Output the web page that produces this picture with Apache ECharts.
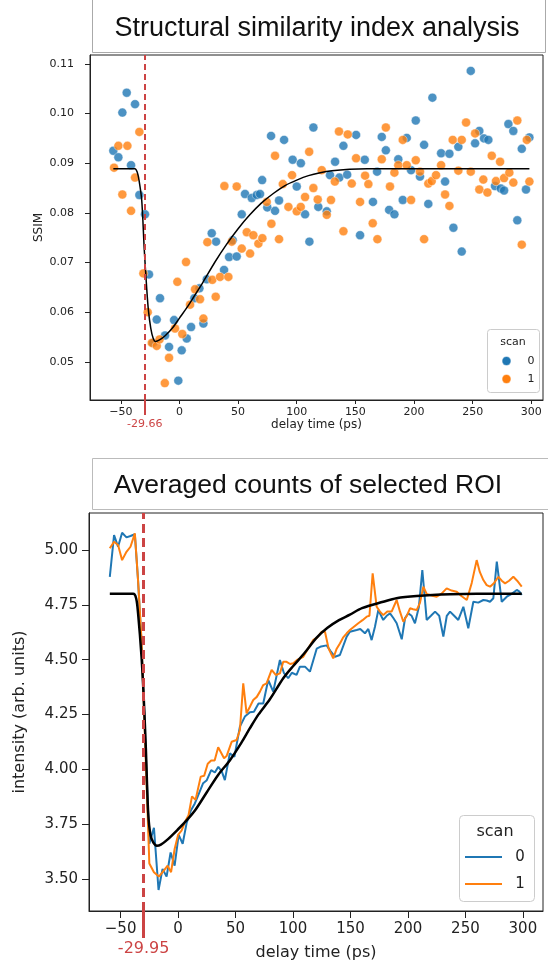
<!DOCTYPE html>
<html><head><meta charset="utf-8">
<script src="https://cdn.jsdelivr.net/npm/echarts@6/dist/echarts.min.js"></script>
<style>html,body{margin:0;padding:0;background:#fff}#c{width:548px;height:968px}</style>
</head><body><div id="c"></div>
<script>
const xTicks = [-50, 0, 50, 100, 150, 200, 250, 300];
const ssimTicks = [0.05, 0.06, 0.07, 0.08, 0.09, 0.10, 0.11];
const intTicks = [3.50, 3.75, 4.00, 4.25, 4.50, 4.75, 5.00];
const scanNames = ['0', '1'];
const ssimT0 = -29.66;
const roiT0 = -29.95;

const ssimScan0 = [[-56.4,0.0925],[-52.1,0.0912],[-48.7,0.1002],[-45.0,0.1042],[-41.3,0.0896],[-37.9,0.1019],[-34.2,0.0836],[-29.4,0.0797],[-26.0,0.0676],[-22.5,0.0538],[-19.4,0.0585],[-16.6,0.0628],[-12.3,0.0553],[-8.9,0.0530],[-4.6,0.0584],[-1.0,0.0462],[1.9,0.0523],[6.2,0.0547],[9.9,0.0570],[12.7,0.0628],[17.0,0.0648],[20.4,0.0577],[23.3,0.0666],[27.5,0.0759],[31.2,0.0742],[38.0,0.0685],[42.3,0.0711],[45.4,0.0745],[48.8,0.0712],[53.1,0.0797],[55.9,0.0838],[61.6,0.0830],[65.9,0.0836],[68.7,0.0838],[70.5,0.0866],[74.9,0.0811],[78.1,0.0955],[81.5,0.0804],[84.9,0.0825],[89.2,0.0947],[96.5,0.0907],[100.0,0.0853],[103.5,0.0900],[107.1,0.0797],[110.8,0.0742],[114.2,0.0972],[118.4,0.0812],[125.6,0.0803],[128.4,0.0876],[132.7,0.0903],[136.3,0.0871],[139.8,0.0935],[143.0,0.0877],[150.6,0.0957],[154.0,0.0755],[158.0,0.0907],[165.0,0.0822],[168.5,0.0883],[172.5,0.0953],[176.0,0.0926],[178.8,0.0806],[183.3,0.0797],[186.6,0.0908],[190.4,0.0826],[193.8,0.0951],[197.5,0.0886],[201.5,0.0986],[205.1,0.0873],[208.6,0.0937],[212.2,0.0818],[215.7,0.1032],[223.1,0.0920],[226.5,0.0863],[230.2,0.0919],[233.6,0.0770],[237.8,0.0933],[240.7,0.0722],[248.4,0.1086],[252.1,0.0940],[255.7,0.0965],[259.7,0.0950],[263.4,0.0947],[269.1,0.0854],[274.0,0.0849],[276.8,0.0845],[280.5,0.0979],[284.7,0.0965],[288.1,0.0785],[291.9,0.0929],[295.5,0.0847],[298.4,0.0952]];

const ssimScan1 = [[-55.8,0.0891],[-52.1,0.0935],[-48.7,0.0837],[-44.4,0.0935],[-41.3,0.0804],[-37.9,0.0871],[-34.2,0.0963],[-30.8,0.0678],[-27.1,0.0600],[-23.6,0.0538],[-19.4,0.0532],[-17.0,0.0545],[-12.5,0.0457],[-8.9,0.0508],[-3.8,0.0567],[-1.8,0.0661],[2.4,0.0556],[5.6,0.0701],[9.0,0.0615],[13.3,0.0646],[17.5,0.0626],[20.4,0.0587],[23.8,0.0741],[28.0,0.0665],[30.9,0.0631],[34.6,0.0671],[38.3,0.0854],[41.7,0.0671],[44.6,0.0742],[48.8,0.0853],[53.1,0.0728],[57.4,0.0761],[60.2,0.0718],[63.0,0.0755],[67.3,0.0738],[70.7,0.0749],[74.4,0.0822],[78.4,0.0778],[81.5,0.0915],[84.9,0.0747],[88.1,0.0858],[92.9,0.0812],[96.0,0.0876],[100.0,0.0803],[103.4,0.0812],[107.1,0.0832],[110.6,0.0923],[114.2,0.0850],[117.9,0.0827],[121.3,0.0886],[125.6,0.0796],[129.2,0.0826],[132.5,0.0863],[136.0,0.0964],[139.8,0.0763],[143.5,0.0958],[146.9,0.0859],[150.6,0.0910],[154.0,0.0822],[158.3,0.0875],[161.1,0.0858],[164.8,0.0779],[168.8,0.0747],[172.5,0.0908],[176.0,0.0972],[179.5,0.0853],[183.3,0.0881],[186.6,0.0896],[190.4,0.0947],[193.8,0.0896],[197.5,0.0826],[201.5,0.0906],[205.1,0.0883],[208.6,0.0747],[212.2,0.0859],[215.1,0.0864],[218.8,0.0876],[223.1,0.0896],[226.5,0.0837],[230.2,0.0814],[233.0,0.0947],[237.8,0.0885],[240.7,0.0947],[244.4,0.0982],[248.4,0.0883],[252.1,0.0960],[255.7,0.0847],[259.1,0.0867],[262.6,0.0841],[266.3,0.0915],[269.9,0.0864],[273.4,0.0903],[276.8,0.0870],[281.3,0.0881],[284.7,0.0861],[288.1,0.0986],[291.9,0.0736],[296.2,0.0947],[298.4,0.0863]];

const ssimFit = [[-56.4,0.0889],[-38,0.0889],[-36,0.0882],[-34.5,0.0866],[-32.2,0.0826],[-30,0.0725],[-28,0.0650],[-26.5,0.0604],[-24.5,0.0568],[-22.5,0.0548],[-20.5,0.0541],[-17,0.0544],[-12,0.0553],[-6,0.0568],[0,0.0588],[6,0.0608],[12,0.0630],[20,0.0660],[30,0.0700],[40,0.0736],[50,0.0768],[60,0.0796],[70,0.0820],[80,0.0839],[90,0.0855],[100,0.0866],[110,0.0875],[120,0.0881],[130,0.0885],[145,0.0888],[160,0.0889],[298.4,0.0889]];

const roiScan0 = [[-59.4,4.878],[-55.7,5.068],[-52.2,5.015],[-48.7,5.079],[-44.9,5.058],[-41.4,5.064],[-37.6,5.072],[-34.8,4.860],[-31.5,4.550],[-28.3,4.100],[-25.0,3.660],[-21.0,3.733],[-17.0,3.449],[-13.5,3.545],[-10.0,3.510],[-6.5,3.620],[-3.0,3.560],[0.5,3.700],[4.0,3.660],[7.5,3.756],[11.0,3.810],[14.6,3.844],[18.2,3.890],[21.8,3.936],[25.0,3.950],[28.8,3.996],[32.0,3.985],[35.0,4.011],[38.0,3.990],[40.7,3.950],[45.0,4.072],[49.0,4.057],[53.8,4.194],[58.1,4.240],[62.5,4.260],[66.0,4.262],[70.0,4.300],[74.1,4.300],[78.4,4.407],[82.8,4.354],[88.6,4.498],[92.0,4.440],[95.8,4.415],[99.0,4.440],[103.1,4.430],[106.0,4.468],[110.4,4.468],[114.7,4.445],[120.6,4.550],[124.5,4.560],[129.3,4.565],[132.5,4.540],[136.5,4.513],[140.8,4.521],[146.7,4.605],[149.5,4.627],[155.4,4.635],[158.5,4.640],[162.6,4.620],[165.5,4.640],[168.4,4.589],[171.3,4.650],[174.2,4.726],[178.5,4.681],[181.5,4.700],[184.4,4.711],[187.3,4.690],[190.2,4.666],[194.6,4.593],[197.5,4.690],[200.3,4.711],[203.2,4.700],[206.1,4.666],[209.5,4.740],[212.5,4.909],[216.3,4.681],[220.0,4.700],[223.6,4.719],[227.2,4.700],[230.8,4.605],[233.8,4.700],[236.6,4.719],[240.2,4.700],[243.8,4.681],[248.2,4.741],[252.5,4.643],[256.9,4.764],[261.2,4.760],[265.6,4.772],[268.5,4.770],[271.4,4.764],[274.3,4.780],[277.3,4.947],[281.6,4.764],[286.0,4.787],[290.3,4.800],[294.7,4.818],[297.0,4.810],[299.0,4.795]];

const roiScan1 = [[-59.4,5.008],[-55.7,5.038],[-52.2,5.023],[-48.7,4.954],[-44.9,4.992],[-41.4,5.015],[-37.6,5.076],[-34.8,4.860],[-31.8,4.590],[-28.5,4.100],[-25.0,3.570],[-21.0,3.530],[-16.7,3.510],[-12.1,3.540],[-9.1,3.560],[-6.1,3.530],[-3.0,3.636],[0.0,3.700],[3.0,3.720],[6.1,3.760],[9.1,3.790],[12.1,3.876],[15.2,3.860],[19.7,3.966],[22.7,3.970],[25.8,4.025],[28.8,4.040],[31.8,4.040],[34.9,4.100],[37.8,4.072],[40.0,4.050],[42.2,4.060],[46.6,4.125],[50.9,4.133],[53.8,4.179],[56.7,4.392],[59.6,4.255],[62.5,4.285],[65.4,4.316],[68.5,4.330],[71.2,4.354],[74.1,4.384],[77.0,4.392],[81.4,4.453],[85.0,4.430],[88.6,4.437],[91.5,4.490],[94.4,4.490],[97.5,4.480],[100.2,4.483],[104.0,4.500],[108.9,4.513],[113.0,4.550],[117.6,4.590],[121.0,4.600],[124.9,4.627],[127.8,4.627],[131.0,4.550],[135.0,4.506],[138.0,4.550],[140.8,4.574],[143.5,4.600],[146.7,4.620],[149.5,4.635],[153.0,4.650],[156.8,4.666],[160.5,4.680],[164.1,4.696],[166.5,4.700],[169.3,4.894],[172.8,4.741],[175.5,4.720],[178.5,4.703],[182.0,4.720],[185.8,4.719],[190.2,4.772],[193.0,4.720],[196.0,4.673],[199.0,4.700],[201.8,4.734],[204.5,4.730],[207.6,4.726],[210.5,4.760],[213.4,4.833],[216.3,4.800],[219.2,4.795],[222.0,4.790],[225.0,4.787],[229.0,4.800],[233.7,4.825],[238.0,4.815],[242.4,4.810],[246.5,4.790],[251.2,4.772],[255.5,4.850],[259.8,4.954],[262.5,4.900],[265.6,4.863],[268.5,4.840],[271.4,4.833],[275.0,4.850],[278.7,4.878],[281.6,4.860],[284.5,4.848],[288.0,4.860],[291.7,4.878],[295.0,4.860],[299.0,4.833]];

const roiFit = [[-59.4,4.80],[-39,4.80],[-36.5,4.78],[-34.8,4.711],[-31.8,4.513],[-29.8,4.316],[-28,4.09],[-26,3.80],[-24,3.70],[-21.5,3.665],[-18.5,3.651],[-15,3.656],[-9,3.68],[0,3.726],[8,3.77],[15,3.814],[25,3.895],[35,3.975],[45,4.04],[55,4.12],[62.5,4.187],[70,4.25],[80,4.32],[91.5,4.415],[100,4.47],[110,4.53],[120.6,4.60],[130,4.645],[140,4.68],[149.5,4.705],[160,4.735],[178.5,4.764],[190,4.78],[207.6,4.79],[236.6,4.798],[260,4.80],[299,4.80]];

const BLUE = '#1f77b4', ORANGE = '#ff7f0e', RED = '#cc4444', INK = '#222';
const TICKFONT = 'DejaVu Sans';
const fmtX = v => (v < 0 ? '\u2212' : '') + Math.abs(v);

function mainX(grid, min, max, fs, margin, tickLen, nameGap) {
  return {
    type: 'value', gridIndex: grid, min: min, max: max, position: 'bottom',
    axisLine: {show: true, onZero: false, lineStyle: {color: INK, width: 1}},
    axisTick: {show: true, customValues: xTicks, length: tickLen, lineStyle: {color: INK}},
    axisLabel: {customValues: xTicks, formatter: fmtX, fontSize: fs, margin: margin, color: INK, fontFamily: TICKFONT},
    splitLine: {show: false},
    name: 'delay time (ps)', nameLocation: 'middle', nameGap: nameGap, nameMoveOverlap: false,
    nameTextStyle: {fontSize: fs + 1, color: INK, fontFamily: TICKFONT}
  };
}
function markX(grid, min, max, t0, fs, tickLen, width, margin) {
  return {
    type: 'value', gridIndex: grid, min: min, max: max, position: 'bottom',
    axisLine: {show: false},
    axisTick: {show: true, customValues: [t0], length: tickLen, lineStyle: {color: RED, width: width}},
    axisLabel: {customValues: [t0], formatter: () => String(t0), fontSize: fs, margin: margin, color: RED, fontFamily: TICKFONT},
    splitLine: {show: false}
  };
}
function mainY(grid, min, max, ticks, fs, margin, tickLen, name, nameGap) {
  return {
    type: 'value', gridIndex: grid, min: min, max: max,
    axisLine: {show: true, onZero: false, lineStyle: {color: INK, width: 1}},
    axisTick: {show: true, customValues: ticks, length: tickLen, lineStyle: {color: INK}},
    axisLabel: {customValues: ticks, formatter: v => v.toFixed(2), fontSize: fs, margin: margin, color: INK, fontFamily: TICKFONT},
    splitLine: {show: false},
    name: name, nameLocation: 'middle', nameGap: nameGap, nameRotate: 90, nameMoveOverlap: false,
    nameTextStyle: {fontSize: fs + 1, color: INK, fontFamily: TICKFONT}
  };
}

const chart = echarts.init(document.getElementById('c'), null, {renderer: 'canvas'});
chart.setOption({
  animation: false,
  backgroundColor: '#fff',
  grid: [
    {left: 90, top: 55, width: 453, height: 345, show: true, borderColor: INK, borderWidth: 1, backgroundColor: 'transparent'},
    {left: 89, top: 513, width: 454, height: 398, show: true, borderColor: INK, borderWidth: 1, backgroundColor: 'transparent'}
  ],
  xAxis: [
    mainX(0, -76.3, 310, 11, 7, 4, 19),
    markX(0, -76.3, 310, ssimT0, 11, 15, 2, 19),
    mainX(1, -77.5, 317.5, 15, 11, 7, 34),
    markX(1, -77.5, 317.5, roiT0, 16, 27, 3, 30)
  ],
  yAxis: [
    mainY(0, 0.0423, 0.1118, ssimTicks, 11, 16, 5, 'SSIM', 45),
    mainY(1, 3.353, 5.169, intTicks, 15, 11, 7, 'intensity (arb. units)', 61)
  ],
  series: [
    {name: scanNames[0], type: 'scatter', xAxisIndex: 0, yAxisIndex: 0, data: ssimScan0, symbolSize: 9,
      itemStyle: {color: BLUE, borderColor: '#fff', borderWidth: 0.5}},
    {name: scanNames[1], type: 'scatter', xAxisIndex: 0, yAxisIndex: 0, data: ssimScan1, symbolSize: 9,
      itemStyle: {color: ORANGE, borderColor: '#fff', borderWidth: 0.5}},
    {name: 'fit', type: 'line', xAxisIndex: 0, yAxisIndex: 0, data: ssimFit, showSymbol: false, smooth: 0.3, z: 4,
      lineStyle: {color: '#000', width: 1.5},
      markLine: {silent: true, symbol: ['none', 'none'], label: {show: false}, z: 5,
        lineStyle: {color: RED, type: [6, 4], width: 2}, data: [{xAxis: ssimT0}]}},
    {name: scanNames[0], type: 'line', xAxisIndex: 2, yAxisIndex: 1, data: roiScan0, showSymbol: false,
      lineStyle: {color: BLUE, width: 2}, itemStyle: {color: BLUE}},
    {name: scanNames[1], type: 'line', xAxisIndex: 2, yAxisIndex: 1, data: roiScan1, showSymbol: false,
      lineStyle: {color: ORANGE, width: 2}, itemStyle: {color: ORANGE}},
    {name: 'fit', type: 'line', xAxisIndex: 2, yAxisIndex: 1, data: roiFit, showSymbol: false, smooth: 0.3, z: 4,
      lineStyle: {color: '#000', width: 2.5},
      markLine: {silent: true, symbol: ['none', 'none'], label: {show: false}, z: 5,
        lineStyle: {color: RED, type: [9, 5], width: 3}, data: [{xAxis: roiT0}]}}
  ],
  graphic: [
    {type: 'rect', z: 50, shape: {x: 92.5, y: -1, width: 453, height: 53.5}, style: {fill: '#fff', stroke: '#aaa', lineWidth: 1}},
    {type: 'text', z: 51, x: 317, y: 29, style: {text: 'Structural similarity index analysis', font: '27px "Liberation Sans", Arial, sans-serif', fill: '#111', align: 'center', verticalAlign: 'middle', textAlign: 'center', textVerticalAlign: 'middle'}},
    {type: 'rect', z: 50, shape: {x: 92.5, y: 458.5, width: 456, height: 51}, style: {fill: '#fff', stroke: '#bbb', lineWidth: 1}},
    {type: 'text', z: 51, x: 308, y: 486, style: {text: 'Averaged counts of selected ROI', font: '26.5px "Liberation Sans", Arial, sans-serif', fill: '#111', align: 'center', verticalAlign: 'middle', textAlign: 'center', textVerticalAlign: 'middle'}},

    {type: 'rect', z: 50, shape: {x: 487.5, y: 329.5, width: 52, height: 63, r: 3}, style: {fill: 'rgba(255,255,255,0.85)', stroke: '#ccc', lineWidth: 1}},
    {type: 'text', z: 51, x: 513, y: 342, style: {text: 'scan', font: '11px "DejaVu Sans"', fill: INK, align: 'center', verticalAlign: 'middle', textAlign: 'center', textVerticalAlign: 'middle'}},
    {type: 'circle', z: 51, shape: {cx: 506.5, cy: 361, r: 4.5}, style: {fill: BLUE, stroke: '#fff', lineWidth: 0.5}},
    {type: 'text', z: 51, x: 531, y: 361, style: {text: scanNames[0], font: '11px "DejaVu Sans"', fill: INK, align: 'center', verticalAlign: 'middle', textAlign: 'center', textVerticalAlign: 'middle'}},
    {type: 'circle', z: 51, shape: {cx: 506.5, cy: 379, r: 4.5}, style: {fill: ORANGE, stroke: '#fff', lineWidth: 0.5}},
    {type: 'text', z: 51, x: 531, y: 379, style: {text: scanNames[1], font: '11px "DejaVu Sans"', fill: INK, align: 'center', verticalAlign: 'middle', textAlign: 'center', textVerticalAlign: 'middle'}},

    {type: 'rect', z: 50, shape: {x: 459.5, y: 815.5, width: 75, height: 86, r: 4}, style: {fill: 'rgba(255,255,255,0.85)', stroke: '#ccc', lineWidth: 1}},
    {type: 'text', z: 51, x: 495, y: 832, style: {text: 'scan', font: '16px "DejaVu Sans"', fill: INK, align: 'center', verticalAlign: 'middle', textAlign: 'center', textVerticalAlign: 'middle'}},
    {type: 'line', z: 51, shape: {x1: 465, y1: 857, x2: 502, y2: 857}, style: {stroke: BLUE, lineWidth: 2}},
    {type: 'text', z: 51, x: 520, y: 857, style: {text: scanNames[0], font: '15px "DejaVu Sans"', fill: INK, align: 'center', verticalAlign: 'middle', textAlign: 'center', textVerticalAlign: 'middle'}},
    {type: 'line', z: 51, shape: {x1: 465, y1: 884, x2: 502, y2: 884}, style: {stroke: ORANGE, lineWidth: 2}},
    {type: 'text', z: 51, x: 520, y: 884, style: {text: scanNames[1], font: '15px "DejaVu Sans"', fill: INK, align: 'center', verticalAlign: 'middle', textAlign: 'center', textVerticalAlign: 'middle'}}
  ]
});
</script></body></html>
